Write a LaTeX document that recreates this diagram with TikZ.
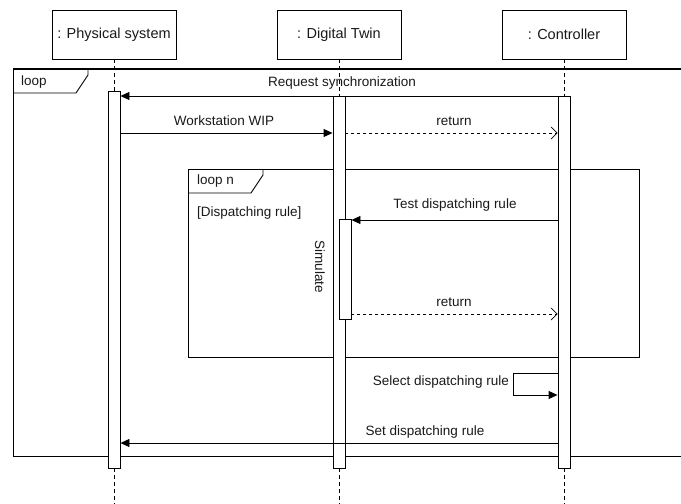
\documentclass[tikz,border=0pt]{standalone}
\usepackage{fontspec}
\setmainfont{Liberation Sans}
\usetikzlibrary{arrows.meta}
\begin{document}
\begin{tikzpicture}[x=1pt,y=-1pt,
  every node/.style={font=\fontsize{13.5}{16}\selectfont, text=black!90},
  head/.style={draw, line width=0.8pt, minimum width=124pt, minimum height=49pt, inner sep=0pt,
    font=\fontsize{14.5}{17}\selectfont},
  bar/.style={draw, fill=white, line width=0.9pt, minimum width=12pt, inner sep=0pt},
  life/.style={line width=0.9pt, dash pattern=on 4pt off 3pt},
  frame/.style={line width=1pt},
  msg/.style={line width=0.9pt, -{Triangle[length=9pt,width=8pt]}},
  ret/.style={line width=0.7pt, dash pattern=on 3pt off 3pt, -{Straight Barb[length=6pt,width=12pt]}},
  lbl/.style={inner sep=0pt}]
\useasboundingbox (0,0) rectangle (681,504);

% participants
\node[head] (pbox) at (114,34.5) {: Physical system};
\node[head] (dbox) at (339,34.5) {: Digital Twin};
\node[head] (cbox) at (564,34.5) {: Controller};

% combined fragments
\draw[frame, line width=1.2pt] (690,69) -- (13,69);
\draw[frame] (13,69) -- (13,456) -- (690,456);
\draw[line width=0.9pt] (13,93) -- (76,93) -- (88,75) -- (88,69);
\node[lbl, anchor=west] (loopl) at (21,82) {loop};

\draw[frame] (188,169) rectangle (639,357);
\draw[line width=0.9pt] (188,193) -- (251,193) -- (263,175) -- (263,169);
\node[lbl, anchor=west] (loopn) at (197,181) {loop n};
\node[lbl, anchor=west] (guard) at (197,213) {[Dispatching rule]};

% execution bars
\node[bar, minimum height=377pt] (pbar) at (114,279.5) {};
\node[bar, minimum height=372pt] (dbar) at (339,282) {};
\node[bar, minimum height=372pt] (cbar) at (564,282) {};
\node[bar, minimum height=100pt] (sbar) at (345,269) {};

% lifelines
\coordinate (pend) at (114,504);
\coordinate (dend) at (339,504);
\coordinate (cend) at (564,504);
\draw[life] (pbox.south) -- (pbar.north);
\draw[life] (dbox.south) -- (dbar.north);
\draw[life] (cbox.south) -- (cbar.north);
\draw[life] (pbar.south) -- (pend);
\draw[life] (dbar.south) -- (dend);
\draw[life] (cbar.south) -- (cend);

% messages
\draw[msg] (cbar.west |- 0,96) -- (pbar.east |- 0,96);
\node[lbl] (m1) at (342,83) {Request synchronization};

\draw[msg] (pbar.east |- 0,133) -- (dbar.west |- 0,133);
\node[lbl] (m2) at (224,121) {Workstation WIP};

\draw[ret] (dbar.east |- 0,133) -- (cbar.west |- 0,133);
\node[lbl] (m3) at (454,121) {return};

\draw[msg] (cbar.west |- 0,220) -- (sbar.east |- 0,220);
\node[lbl] (m4) at (455,205) {Test dispatching rule};

\node[lbl, rotate=-90] (sim) at (320,267) {Simulate};

\draw[ret] (sbar.east |- 0,314) -- (cbar.west |- 0,314);
\node[lbl] (m5) at (454,302) {return};

\draw[msg] (cbar.west |- 0,373) -- ++(-44,0) -- ++(0,22) -- (cbar.west |- 0,395);
\node[lbl, anchor=east] (m6) at (509,382) {Select dispatching rule};

\draw[msg] (cbar.west |- 0,443) -- (pbar.east |- 0,443);
\node[lbl] (m7) at (425,432) {Set dispatching rule};
\end{tikzpicture}
\end{document}
